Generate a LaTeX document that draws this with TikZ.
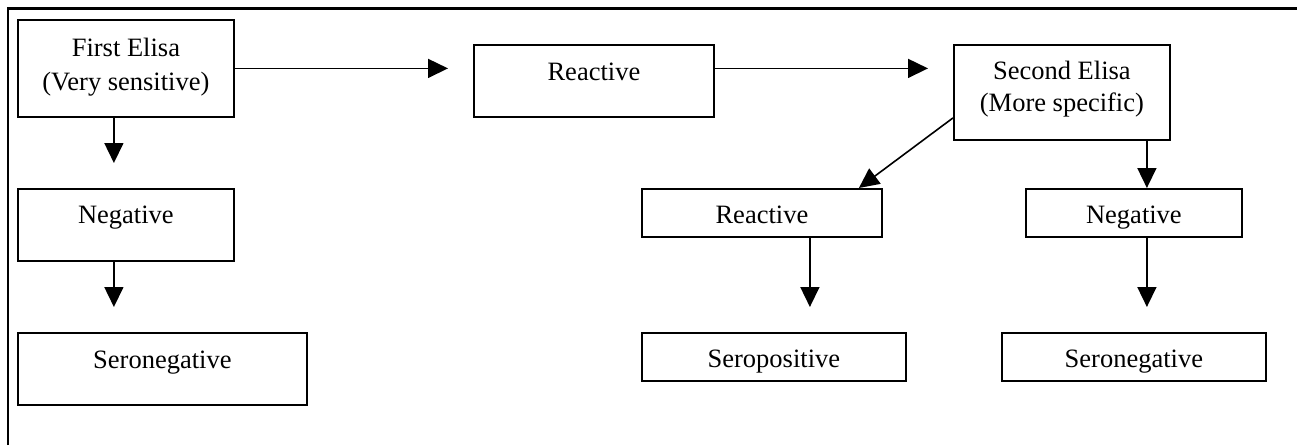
\documentclass[tikz,border=0pt]{standalone}
\usepackage{fontspec}
\setmainfont{Liberation Serif}
\usetikzlibrary{arrows.meta,calc}
\begin{document}
\begin{tikzpicture}[x=1pt,y=-1pt,
  box/.style={draw, line width=1.8pt, inner sep=0pt, anchor=north west,
    font=\fontsize{26.5}{34}\selectfont},
  arr/.style={line width=1.6pt, -{Triangle[length=20pt,width=19pt]}},
  frameline/.style={line width=2.6pt}]
\useasboundingbox (0,0) rectangle (1297,445);
\draw[frameline] (8,445) -- (8,8.5) -- (1297,8.5);

\node[box, minimum width=216pt, text height=37pt, text depth=60pt] (A) at (17,19)
  {\parbox[t]{216pt}{\centering First Elisa\\(Very sensitive)}};
\node[box, minimum width=240pt, text height=36pt, text depth=36pt] (B) at (473,44) {Reactive};
\node[box, minimum width=216pt, text height=35pt, text depth=60pt,
  font=\fontsize{26.5}{32}\selectfont] (C) at (953,44)
  {\parbox[t]{216pt}{\centering Second Elisa\\(More specific)}};
\node[box, minimum width=216pt, text height=35pt, text depth=37pt] (NL) at (17,188) {Negative};
\node[box, minimum width=289pt, text height=36pt, text depth=36pt] (SL) at (17,332) {Seronegative};
\node[box, minimum width=240pt, text height=35pt, text depth=13pt] (D) at (641,188) {Reactive};
\node[box, minimum width=216pt, text height=35pt, text depth=13pt] (E) at (1025,188) {Negative};
\node[box, minimum width=264pt, text height=35pt, text depth=13pt] (F) at (641,332) {Seropositive};
\node[box, minimum width=264pt, text height=35pt, text depth=13pt] (G) at (1001,332) {Seronegative};

\coordinate (cA) at ($(A.south)+(-12,0)$);
\coordinate (cD) at ($(D.south)+(48,0)$);
\coordinate (cE) at ($(E.north)+(13,0)$);

\draw[arr, shorten >=25pt] (A.east) -- (A.east -| B.west);
\draw[arr, shorten >=25pt] (B.east |- A.east) -- (C.west |- A.east);
\draw[arr] ($(C.west)+(0,25.5)$) -- ($(D.north)+(97,0)$);
\draw[arr] (cE |- C.south) -- (cE);
\draw[arr, shorten >=25pt] (cE |- E.south) -- (cE |- G.north);
\draw[arr, shorten >=25pt] (cA) -- (cA |- NL.north);
\draw[arr, shorten >=25pt] (cA |- NL.south) -- (cA |- SL.north);
\draw[arr, shorten >=25pt] (cD) -- (cD |- F.north);
\end{tikzpicture}
\end{document}
